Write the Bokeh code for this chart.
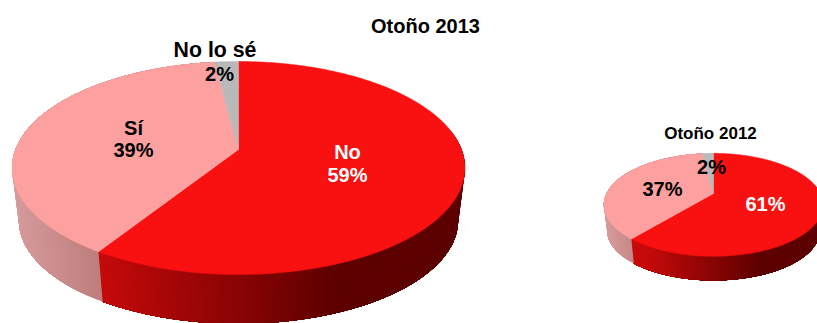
import numpy as np
from bokeh.core.properties import value
from bokeh.embed import file_html
from bokeh.models import Range1d
from bokeh.plotting import figure
from bokeh.resources import INLINE

W, H = 817, 323

categories = ["No", "Sí", "No lo sé"]
otono_2013 = [59, 39, 2]
otono_2012 = [61, 37, 2]

TOP_COLORS = ["#f91010", "#fca0a0", "#b9b9b9"]
# rim shading per category: (horizontal position, colour) at both ends of the ramp,
# position -1..1 measured across the pie; colours hold beyond the ends
RIM_RAMPS = [
    ((-0.63, (198, 10, 10)), (0.46, (92, 0, 0))),
    ((-1.00, (214, 154, 154)), (-0.63, (190, 126, 126))),
    ((-1.00, (150, 150, 150)), (1.00, (120, 120, 120))),
]

FONT = value("Liberation Sans")


def project(theta, g, lift=0.0):
    """Perspective view of a point on the unit disc; theta runs clockwise from the top."""
    u, v = np.sin(theta), np.cos(theta)
    w = 1 + g["a"] * v
    scale = 1 - lift * g["shrink"]
    return (g["px"] + scale * g["R"] * u / w,
            g["py"] - scale * g["S"] * v / w + lift * g["depth"])


def rim_color(x, i, g):
    (n0, c0), (n1, c1) = RIM_RAMPS[i]
    n = (x - g["px"]) / g["R"]
    f = np.clip((n - n0) / (n1 - n0), 0, 1)
    return "#%02x%02x%02x" % tuple(int(a + (b - a) * f) for a, b in zip(c0, c1))


def draw_pie(p, values, g):
    total = sum(values)
    edges = np.concatenate([[0.0], np.cumsum(values)]) / total * 2 * np.pi

    # Rim first: each band runs on to the end of its slice and the next band paints
    # over it, so no seams open up between neighbouring bands
    for i in range(len(values)):
        a0, a1 = edges[i], edges[i + 1]
        for t0 in np.arange(a0, a1, g["band"]):
            if np.cos(t0) > 0.2:
                continue
            t = np.linspace(t0, a1, 40)
            x_top, y_top = project(t, g)
            x_bot, y_bot = project(t, g, 1.0)
            color = rim_color(project(t0 + g["band"] / 2, g)[0], i, g)
            p.patch(np.r_[x_top, x_bot[::-1]], np.r_[y_top, y_bot[::-1]],
                    fill_color=color, line_color=None)

    # Top face wedges meeting at the pivot
    for i in range(len(values)):
        t = np.linspace(edges[i], edges[i + 1], 240)
        x, y = project(t, g)
        p.patch(np.r_[g["px"], x], np.r_[g["py"], y], fill_color=TOP_COLORS[i],
                line_color=TOP_COLORS[i], line_width=0.5)


def label(p, x, y, txt, size, color="#000000"):
    p.text([x], [y], text=[txt], text_font=FONT, text_font_style="bold",
           text_font_size=f"{size}px", text_color=color,
           text_align="center", text_baseline="middle")


p = figure(width=W, height=H, output_backend="svg", toolbar_location=None,
           x_range=Range1d(0, W), y_range=Range1d(H, 0),
           min_border=0, outline_line_color=None, background_fill_color="white",
           border_fill_color="white")
p.axis.visible = False
p.grid.visible = False

large = dict(px=238.0, py=149.0, R=223.0, S=103.3, a=0.1737, depth=53.0, shrink=0.03, band=0.02)
small = dict(px=713.0, py=193.0, R=107.0, S=49.0, a=0.22, depth=26.0, shrink=0.03, band=0.035)

draw_pie(p, otono_2013, large)
draw_pie(p, otono_2012, small)

label(p, 425, 25, "Otoño 2013", 20)
label(p, 214.5, 49, categories[2], 21.3)
label(p, 219, 73, f"{otono_2013[2]}%", 20)
label(p, 133, 127, categories[1], 20)
label(p, 133, 149.5, f"{otono_2013[1]}%", 20)
label(p, 347, 151.5, categories[0], 20, "#ffffff")
label(p, 347, 174, f"{otono_2013[0]}%", 20, "#ffffff")

label(p, 710, 132.5, "Otoño 2012", 17)
label(p, 711, 166, f"{otono_2012[2]}%", 20)
label(p, 662, 188, f"{otono_2012[1]}%", 20)
label(p, 765, 203.5, f"{otono_2012[0]}%", 20, "#ffffff")

open("out.html", "w").write(file_html(p, INLINE))
